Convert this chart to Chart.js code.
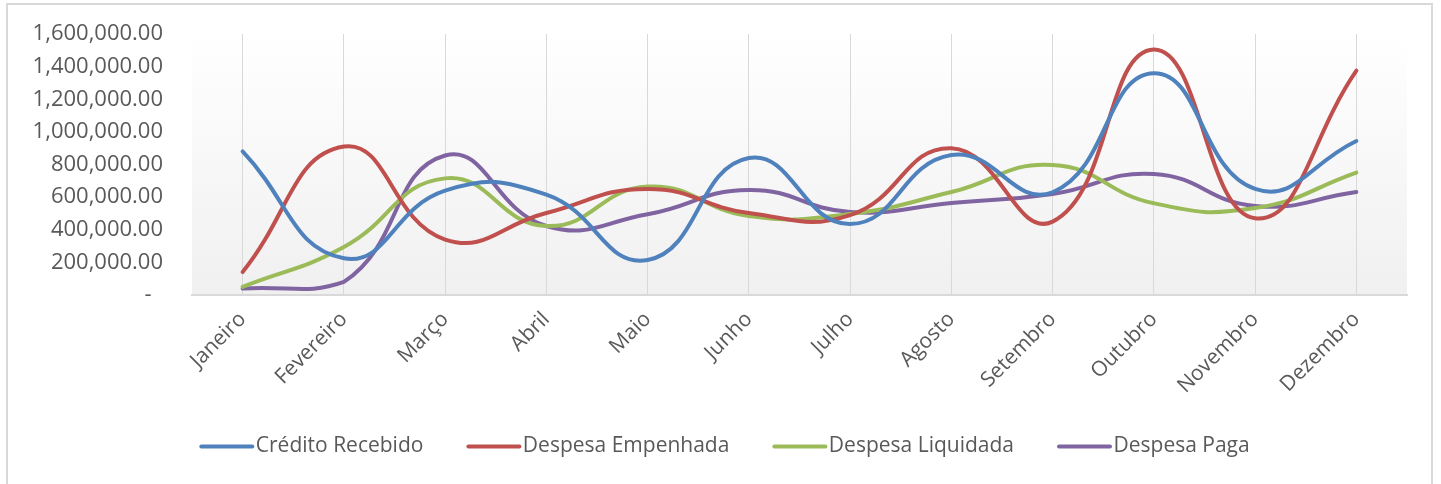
<!DOCTYPE html>
<html>
<head>
<meta charset="utf-8">
<script src="https://cdn.jsdelivr.net/npm/chart.js@4.4.1/dist/chart.umd.min.js"></script>
<style>
  html, body { margin: 0; padding: 0; background: #ffffff; overflow: hidden; }
  #wrap { position: relative; width: 1441px; height: 484px; }
  #frame { position: absolute; left: 6px; top: 3px; width: 1427px; height: 520px; border: 2px solid #d9d9d9; box-sizing: border-box; }
  canvas { position: absolute; left: 0; top: 0; }
</style>
</head>
<body>
<div id="wrap">
  <div id="frame"></div>
  <canvas id="c" width="1441" height="484"></canvas>
</div>
<script>
const months = ['Janeiro','Fevereiro','Março','Abril','Maio','Junho','Julho','Agosto','Setembro','Outubro','Novembro','Dezembro'];
const creditoRecebido = [880000, 225000, 640000, 615000, 215000, 840000, 435000, 858000, 630000, 1360000, 650000, 944000];
const despesaEmpenhada = [141000, 910000, 340000, 503000, 650000, 503000, 490000, 900000, 450000, 1505000, 470000, 1375000];
const despesaLiquidada = [50000, 294000, 715000, 423000, 665000, 484000, 497000, 631000, 797000, 562000, 533000, 750000];
const despesaPaga = [40000, 80000, 855000, 423000, 495000, 644000, 509000, 564000, 619000, 742000, 546000, 631000];
const seriesNames = ['Crédito Recebido', 'Despesa Empenhada', 'Despesa Liquidada', 'Despesa Paga'];
const seriesColors = ['#4f81bd', '#c0504d', '#9bbb59', '#8064a2'];
const yTicks = [0, 200000, 400000, 600000, 800000, 1000000, 1200000, 1400000, 1600000];

function fmt(v) {
  if (v === 0) return '-  ';
  const s = Math.round(v).toString().replace(/\B(?=(\d{3})+(?!\d))/g, ',');
  return s + '.00';
}

const FONT = '"Open Sans", sans-serif';

const stylePlugin = {
  id: 'excelStyle',
  afterLayout(chart) {
    const lg = chart.legend;
    if (lg) { lg.left += 21; lg.right += 21; }
  },
  beforeDraw(chart) {
    const {ctx, chartArea: a} = chart;
    const g = ctx.createLinearGradient(0, a.top, 0, a.bottom);
    g.addColorStop(0, '#ffffff');
    g.addColorStop(1, '#f0f0f0');
    ctx.save();
    ctx.fillStyle = g;
    ctx.fillRect(a.left, a.top, a.right - a.left, a.bottom - a.top);
    ctx.restore();
  },
  afterDraw(chart) {
    const lg = chart.legend;
    const ctx = chart.ctx;
    ctx.save();
    ctx.lineWidth = 4;
    ctx.lineCap = 'round';
    lg.legendHitBoxes.forEach((hb, i) => {
      const y = hb.top + hb.height / 2;
      ctx.strokeStyle = seriesColors[i];
      ctx.beginPath();
      ctx.moveTo(hb.left + 2, y);
      ctx.lineTo(hb.left + 53, y);
      ctx.stroke();
    });
    ctx.restore();
  }
};

const allSeries = [creditoRecebido, despesaEmpenhada, despesaLiquidada, despesaPaga];

new Chart(document.getElementById('c'), {
  type: 'line',
  data: {
    labels: months,
    datasets: allSeries.map((d, i) => ({
      label: seriesNames[i],
      data: d,
      borderColor: seriesColors[i],
      backgroundColor: seriesColors[i],
      borderWidth: 4,
      pointRadius: 0,
      tension: 0.47,
      fill: false,
      borderCapStyle: 'round'
    }))
  },
  options: {
    responsive: false,
    animation: false,
    layout: { padding: { left: 0, right: 34, top: 34, bottom: 17 } },
    plugins: {
      title: { display: false },
      tooltip: { enabled: false },
      legend: {
        position: 'bottom',
        labels: {
          boxWidth: 46,
          boxHeight: 4,
          padding: 43,
          color: '#595959',
          font: { family: FONT, size: 21 },
          generateLabels(chart) {
            return chart.data.datasets.map((ds, i) => ({
              text: ds.label,
              fillStyle: 'rgba(0,0,0,0)',
              strokeStyle: 'rgba(0,0,0,0)',
              lineWidth: 0,
              fontColor: '#595959',
              datasetIndex: i,
              hidden: false
            }));
          }
        }
      }
    },
    scales: {
      x: {
        offset: true,
        grid: { display: true, offset: false, color: '#d9d9d9', lineWidth: 1, drawTicks: false },
        border: { display: true, color: '#d9d9d9', width: 2 },
        ticks: { color: '#595959', font: { family: FONT, size: 21 }, minRotation: 45, maxRotation: 45, padding: 12, autoSkip: false },
        afterFit(scale) { scale.height = 98; }
      },
      y: {
        min: 0,
        max: 1600000,
        grid: { display: false, drawTicks: false },
        border: { display: false },
        afterBuildTicks(scale) { scale.ticks = yTicks.map(v => ({ value: v })); },
        ticks: { color: '#595959', font: { family: FONT, size: 22 }, padding: 29, callback: (v) => fmt(v) },
        afterFit(scale) { scale.width = 192; scale.paddingTop = 13; scale.paddingBottom = 13; }
      }
    }
  },
  plugins: [stylePlugin]
});
</script>
</body>
</html>
